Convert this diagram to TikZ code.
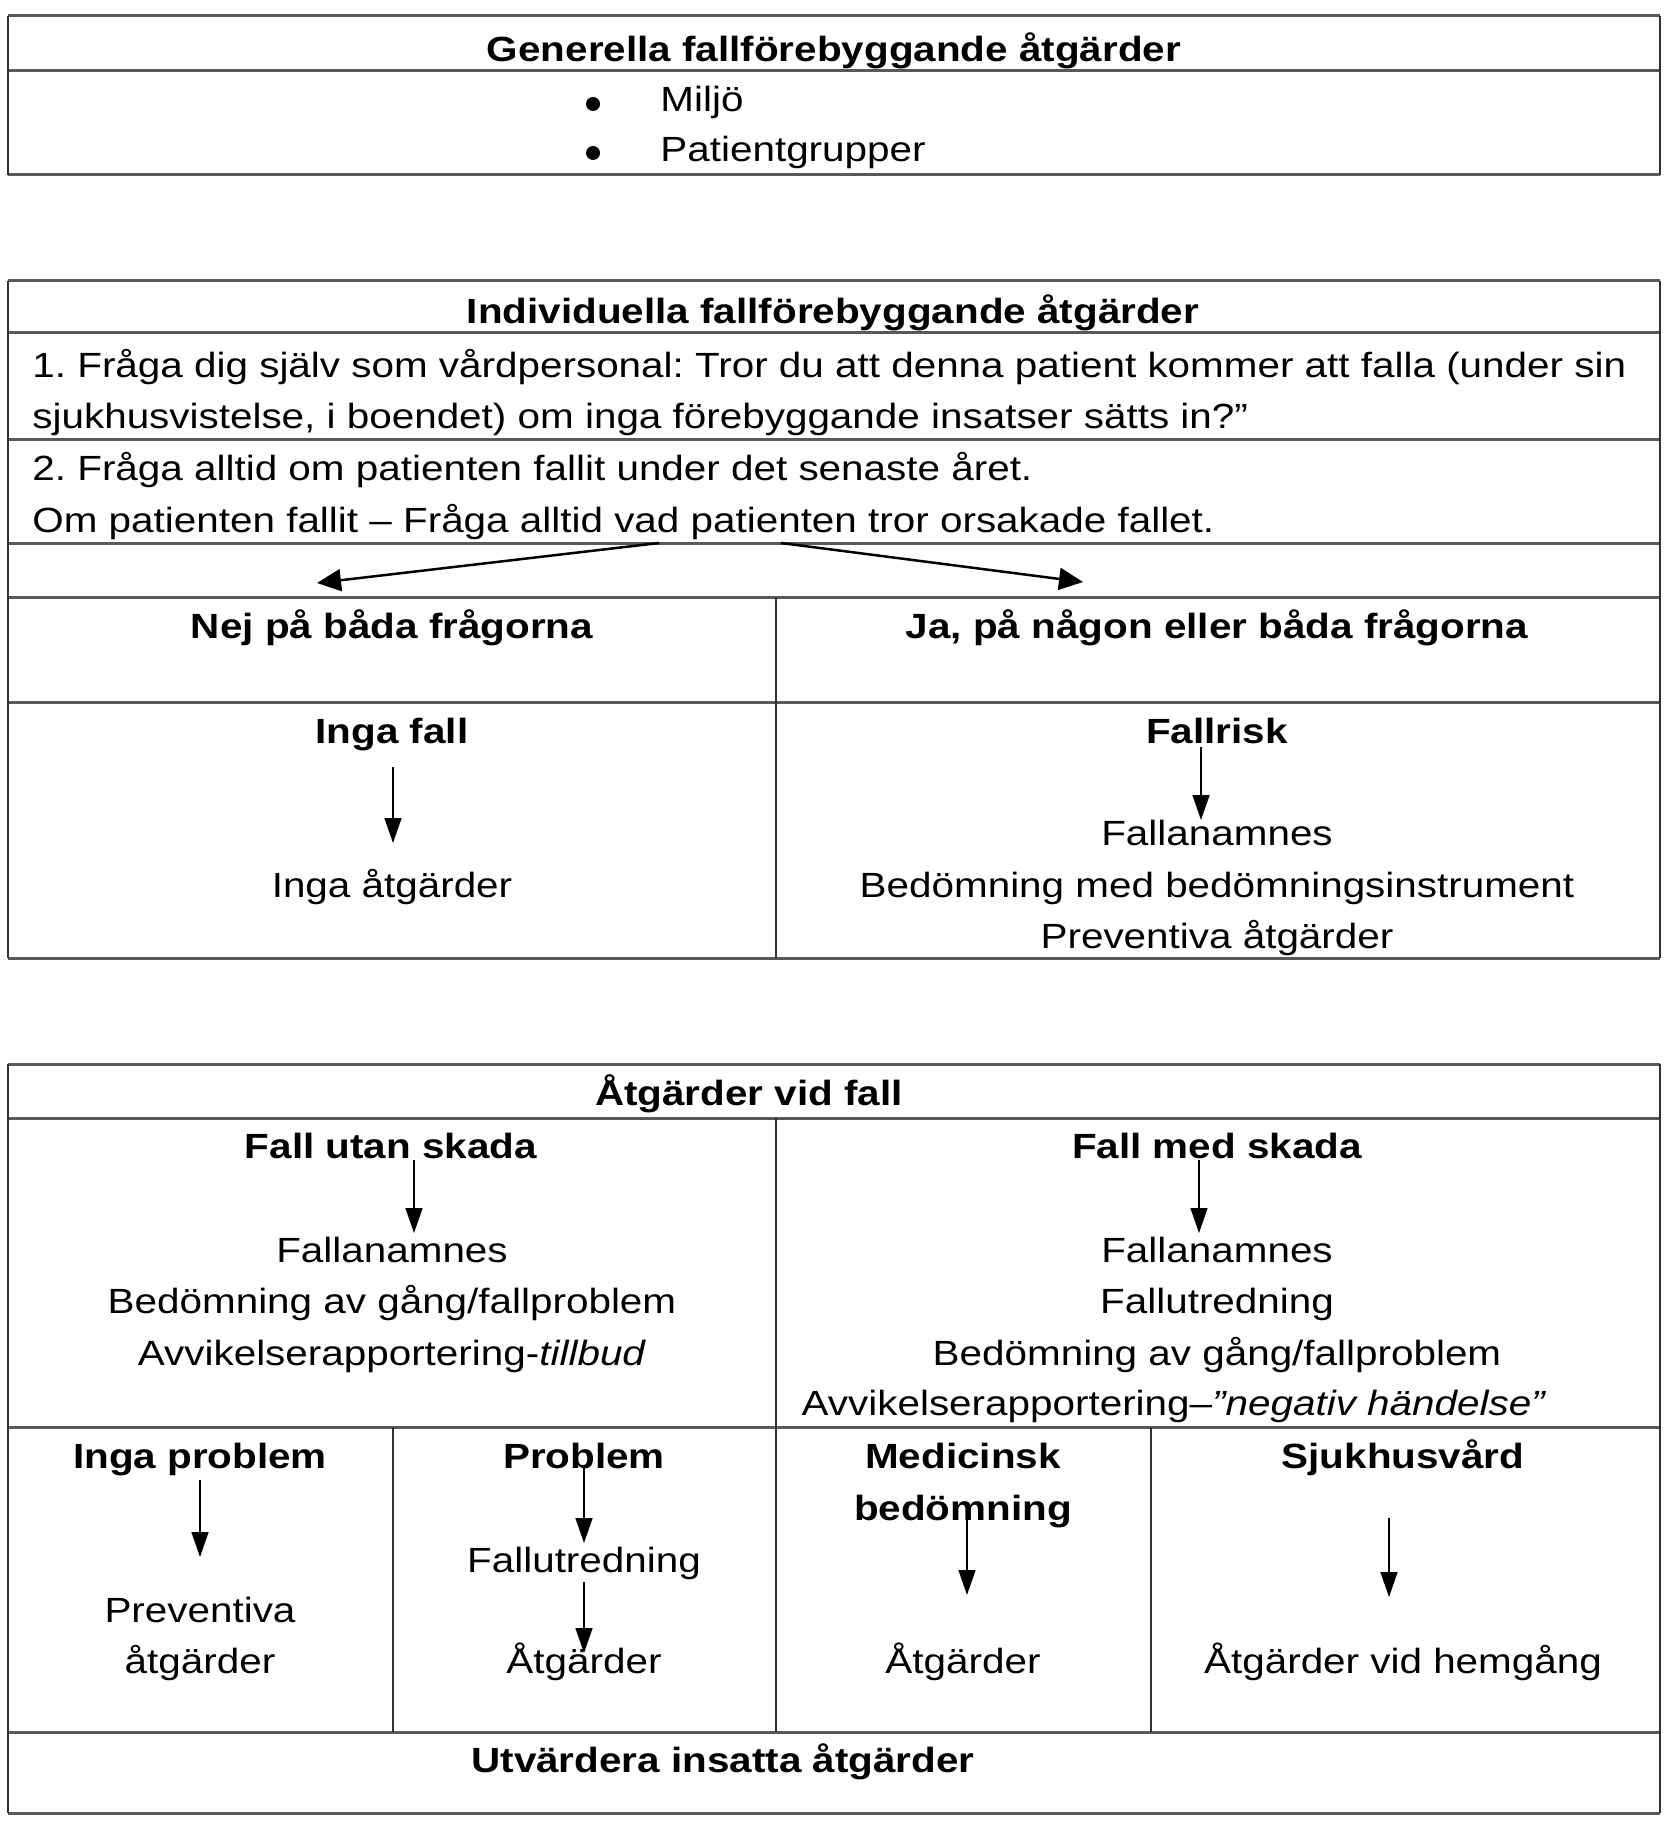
\documentclass[tikz,border=0pt]{standalone}
\usepackage{fontspec}
\setmainfont[FakeStretch=1.155]{Liberation Sans}
\usetikzlibrary{arrows.meta}
\frenchspacing
\begin{document}
\begin{tikzpicture}[x=0.5pt,y=-0.5pt,
  hline/.style={line width=1.5pt,draw=black!65},
  vline/.style={line width=0.7pt,draw=black!80},
  txt/.style={inner sep=0pt,anchor=base,font=\fontsize{17.5pt}{25pt}\selectfont},
  btxt/.style={txt,font=\fontsize{17.5pt}{25pt}\selectfont\bfseries},
  ltxt/.style={txt,anchor=base west},
  bul/.style={circle,fill=black,inner sep=0pt,minimum size=7pt},
  varrow/.style={line width=0.75pt,-{Triangle[length=12.5pt,width=8.5pt]}},
  darrow/.style={line width=1.25pt,-{Triangle[length=12pt,width=11pt]}}]
\useasboundingbox (0,0) rectangle (1666,1840);
% ---------- Box 1
\draw[hline] (8,16) -- (1660,16);
\draw[hline] (8,71) -- (1660,71);
\draw[hline] (8,175) -- (1660,175);
\draw[vline] (8,16) -- (8,175);
\draw[vline] (1660,16) -- (1660,175);
\node[btxt] (gen) at (834,62) {Generella fallförebyggande åtgärder};
\node[bul] (b1) at (593,104) {};
\node[ltxt] (milj) at (660,112) {Miljö};
\node[bul] (b2) at (593,153) {};
\node[ltxt] (pat) at (660,162) {Patientgrupper};
% ---------- Box 2
\draw[hline] (8,281) -- (1660,281);
\draw[hline] (8,333) -- (1660,333);
\draw[hline] (8,439) -- (1660,439);
\draw[hline] (8,543) -- (1660,543);
\draw[hline] (8,597) -- (1660,597);
\draw[hline] (8,702) -- (1660,702);
\draw[hline] (8,958) -- (1660,958);
\draw[vline] (8,281) -- (8,958);
\draw[vline] (1660,281) -- (1660,958);
\draw[vline] (776,597) -- (776,958);
\node[btxt] (ind) at (833,324) {Individuella fallförebyggande åtgärder};
\node[ltxt] (q1a) at (32,378) {1. Fråga dig själv som vårdpersonal: Tror du att denna patient kommer att falla (under sin};
\node[ltxt] (q1b) at (32,428) {sjukhusvistelse, i boendet) om inga förebyggande insatser sätts in?”};
\node[ltxt] (q2a) at (32,480) {2. Fråga alltid om patienten fallit under det senaste året.};
\node[ltxt] (q2b) at (32,532) {Om patienten fallit – Fråga alltid vad patienten tror orsakade fallet.};
\coordinate (dsl) at (659,543);
\coordinate (dsr) at (781,543);
\coordinate (dtl) at (317,583);
\coordinate (dtr) at (1083,582);
\draw[darrow] (dsl) -- (dtl);
\draw[darrow] (dsr) -- (dtr);
\node[btxt] (nej) at (392,638) {Nej på båda frågorna};
\node[btxt] (ja) at (1217,638) {Ja, på någon eller båda frågorna};
\node[btxt] (ingafall) at (392,743) {Inga fall};
\node[txt] (ingaatg) at (392,897) {Inga åtgärder};
\coordinate (a1s) at (393,767);
\coordinate (a1e) at (393,843);
\draw[varrow] (a1s) -- (a1e);
\node[btxt] (fallrisk) at (1217,743) {Fallrisk};
\node[txt] (fa1) at (1217,845) {Fallanamnes};
\node[txt] (bed1) at (1217,897) {Bedömning med bedömningsinstrument};
\node[txt] (prev1) at (1217,948) {Preventiva åtgärder};
\coordinate (a2s) at (1201,747);
\coordinate (a2e) at (1201,820);
\draw[varrow] (a2s) -- (a2e);
% ---------- Box 3
\draw[hline] (8,1064) -- (1660,1064);
\draw[hline] (8,1118) -- (1660,1118);
\draw[hline] (8,1427) -- (1660,1427);
\draw[hline] (8,1732) -- (1660,1732);
\draw[hline] (8,1813) -- (1660,1813);
\draw[vline] (8,1064) -- (8,1813);
\draw[vline] (1660,1064) -- (1660,1813);
\draw[vline] (776,1118) -- (776,1732);
\draw[vline] (393,1427) -- (393,1732);
\draw[vline] (1151,1427) -- (1151,1732);
\node[btxt] (atgfall) at (749,1105) {Åtgärder vid fall};
\node[btxt] (utan) at (391,1158) {Fall utan skada};
\node[txt] (fa2) at (392,1262) {Fallanamnes};
\node[txt] (bed2) at (392,1313) {Bedömning av gång/fallproblem};
\node[txt] (avv1) at (392,1365) {Avvikelserapportering-\textit{tillbud}};
\coordinate (a3s) at (414,1160);
\coordinate (a3e) at (414,1233);
\draw[varrow] (a3s) -- (a3e);
\node[btxt] (med) at (1217,1158) {Fall med skada};
\node[txt] (fa3) at (1217,1262) {Fallanamnes};
\node[txt] (fu1) at (1217,1313) {Fallutredning};
\node[txt] (bed3) at (1217,1365) {Bedömning av gång/fallproblem};
\node[txt] (avv2) at (1174,1415) {Avvikelserapportering–\textit{”negativ händelse”}};
\coordinate (a4s) at (1199,1160);
\coordinate (a4e) at (1199,1233);
\draw[varrow] (a4s) -- (a4e);
% row 4
\node[btxt] (ingaprob) at (200,1468) {Inga problem};
\node[txt] (prev2) at (200,1622) {Preventiva};
\node[txt] (prev3) at (200,1673) {åtgärder};
\coordinate (a5s) at (200,1480);
\coordinate (a5e) at (200,1557);
\draw[varrow] (a5s) -- (a5e);
\node[btxt] (prob) at (584,1468) {Problem};
\node[txt] (fu2) at (584,1572) {Fallutredning};
\node[txt] (atg1) at (584,1673) {Åtgärder};
\coordinate (a6s) at (584,1467);
\coordinate (a6e) at (584,1543);
\coordinate (a7s) at (584,1582);
\coordinate (a7e) at (584,1653);
\draw[varrow] (a6s) -- (a6e);
\draw[varrow] (a7s) -- (a7e);
\node[btxt] (medi) at (963,1468) {Medicinsk};
\node[btxt] (bedo) at (963,1520) {bedömning};
\node[txt] (atg2) at (963,1673) {Åtgärder};
\coordinate (a8s) at (967,1520);
\coordinate (a8e) at (967,1595);
\draw[varrow] (a8s) -- (a8e);
\node[btxt] (sjuk) at (1403,1468) {Sjukhusvård};
\node[txt] (hem) at (1403,1673) {Åtgärder vid hemgång};
\coordinate (a9s) at (1389,1518);
\coordinate (a9e) at (1389,1597);
\draw[varrow] (a9s) -- (a9e);
\node[btxt] (utv) at (723,1772) {Utvärdera insatta åtgärder};
\end{tikzpicture}
\end{document}
